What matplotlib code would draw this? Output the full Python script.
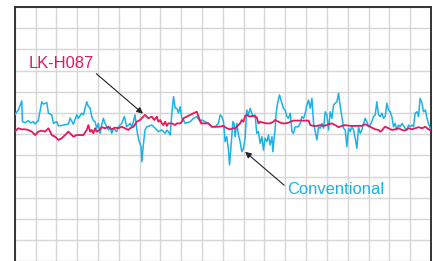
import matplotlib
matplotlib.use("Agg")
import matplotlib.pyplot as plt
import numpy as np

# traces (x: time, y: deviation)
conv_x = [0.0, 1.7, 3.4, 3.7, 5.0, 6.5, 7.7, 8.9, 9.8, 11.3, 13.0, 13.8, 15.4, 16.2, 17.8,
          18.6, 20.2, 21.0, 23.4, 25.8, 26.6, 28.2, 29.8, 30.6, 32.2, 33.0, 34.6, 35.4, 36.2,
          37.0, 37.8, 38.6, 39.4, 40.2, 41.0, 41.8, 42.6, 43.4, 45.0, 45.8, 46.6, 47.4, 49.0,
          49.8, 51.4, 52.7, 53.8, 54.6, 55.4, 56.3, 57.0, 57.8, 58.7, 59.1, 59.8, 60.2, 60.7,
          61.1, 61.8, 62.6, 63.5, 65.9, 67.5, 69.0, 70.7, 72.3, 73.1, 73.8, 74.7, 75.5, 76.3,
          77.1, 77.9, 78.7, 79.5, 80.3, 81.1, 81.9, 84.3, 85.9, 87.5, 89.1, 89.9, 91.5, 93.1,
          94.7, 96.3, 97.9, 98.7, 99.5, 100.3, 101.1, 101.9, 102.7, 103.2, 103.8, 104.8, 105.4,
          105.9, 106.7, 107.5, 108.3, 109.1, 109.9, 110.7, 111.5, 112.3, 113.1, 113.9, 114.7,
          115.5, 116.3, 117.1, 117.9, 118.8, 119.5, 120.3, 121.2, 121.9, 122.7, 123.6, 124.0,
          124.7, 125.1, 125.6, 126.3, 127.2, 128.4, 129.1, 129.9, 130.8, 131.5, 132.4, 133.2,
          133.9, 134.8, 136.3, 137.2, 138.0, 138.8, 139.6, 140.4, 141.2, 142.0, 142.8, 143.6,
          144.4, 145.2, 146.0, 146.8, 147.6, 148.4, 149.2, 150.0, 150.8, 151.6, 152.4, 153.2,
          154.0, 154.8, 155.6, 156.4, 157.2, 158.0, 158.8, 159.6, 160.4, 161.2, 162.0, 162.8,
          163.6, 164.4, 165.2, 166.0, 166.8, 167.6, 168.4, 169.2, 170.0, 170.8, 171.6, 172.4,
          173.2, 174.0, 174.8, 175.6, 176.4, 177.2, 178.0, 178.8, 179.6, 180.4, 181.2, 182.0,
          182.8, 183.6, 184.4, 185.2, 186.1, 187.6, 188.5, 189.2, 190.0, 190.9, 191.6, 192.4,
          193.3, 194.0, 194.8, 195.7, 196.4, 197.3, 198.1, 198.8, 199.6]
conv_y = [9.1, 11.4, 15.7, 5.9, 5.4, 6.4, 5.3, 5.9, 4.8, 6.4, 15.3, 14.2, 14.9, 9.9, 9.1,
          5.1, 5.9, 3.9, 4.3, 4.8, 7.6, 4.7, 9.1, 7.5, 9.9, 9.1, 15.3, 13.0, 12.4,
          8.3, 6.4, 5.9, 2.8, 5.1, 0.4, 4.3, 7.5, 5.1, 2.0, 3.5, 0.4, 2.8, 1.2,
          3.5, 5.1, 8.3, 3.5, 4.3, 5.1, 3.5, 5.9, 9.1, 2.0, -0.4, -3.5, -4.3, -5.9,
          -13.0, -5.1, 2.0, 3.5, 4.3, 2.8, 1.2, 2.0, 0.4, 2.0, 1.2, -0.4, 9.9, 17.7,
          12.2, 12.2, 9.9, 13.0, 7.5, 6.7, 5.1, 5.9, 7.5, 8.3, 5.9, 6.7, 5.9, 5.1,
          3.5, 3.5, 5.1, 9.1, 8.3, 5.9, -3.5, -1.2, -7.5, -14.5, -7.5, 5.9, 5.1,
          -1.2, 5.1, -0.4, -3.5, -8.3, -6.7, -1.9, 11.4, 9.1, 12.2, 9.9, 8.3,
          9.1, 0.4, 1.2, -4.3, -1.2, -7.5, -1.9, -3.5, -0.4, -5.1, -1.2, -8.3,
          -1.2, 2.0, 9.9, 14.6, 18.5, 14.6, 12.2, 11.4, 8.3, 7.5, 9.9, 1.2,
          0.4, 3.5, 3.5, 5.1, 8.3, 7.5, 9.9, 13.8, 16.1, 12.2, 16.9, 5.1,
          1.2, -2.7, 3.5, 2.8, 5.1, 2.8, 10.6, 9.1, 2.0, 10.6, 7.5, 13.8,
          14.6, 15.3, 19.3, 13.0, 8.3, 2.8, 2.0, -5.9, 2.8, 1.2, 3.5, 2.0,
          -1.9, -6.7, 3.5, 0.4, 2.0, 5.1, 7.5, 5.9, 3.5, 4.3, 5.9, 8.3,
          9.1, 15.3, 9.1, 8.3, 9.9, 7.5, 8.3, 14.6, 11.4, 10.6, 8.3, 3.5,
          5.1, 2.0, 4.3, 3.5, 5.1, 2.8, 2.0, 4.3, 3.5, 4.3, 3.5, 9.9,
          10.6, 8.3, 16.9, 14.6, 10.6, 11.4, 7.5, 5.1, 2.8]

lk_x = [0.0, 1.7, 3.4, 5.0, 6.5, 8.2, 9.8, 11.3, 13.0, 14.6, 16.2, 17.8, 19.4, 21.0, 22.6,
        24.2, 25.8, 27.4, 28.2, 29.8, 33.0, 34.6, 35.4, 36.2, 37.0, 37.8, 38.6, 39.4, 40.7,
        41.8, 43.4, 45.0, 46.6, 48.2, 49.8, 51.4, 53.0, 54.6, 55.4, 57.0, 58.7, 60.2, 61.8,
        62.6, 64.2, 65.9, 67.1, 68.3, 69.0, 69.9, 70.7, 71.4, 72.3, 73.1, 73.8, 75.5, 77.1,
        77.9, 79.5, 80.3, 81.1, 82.7, 84.3, 85.9, 87.5, 88.3, 89.6, 90.7, 93.1, 94.7, 97.9,
        100.3, 101.9, 103.5, 105.1, 105.9, 107.5, 108.3, 109.1, 109.9, 110.7, 111.5, 112.3,
        113.1, 113.9, 114.7, 115.5, 116.3, 117.1, 117.9, 119.5, 121.2, 122.7, 124.3, 125.1,
        126.7, 128.4, 129.9, 131.5, 132.4, 133.9, 137.2, 141.2, 142.0, 143.6, 145.2, 146.8,
        148.4, 150.0, 150.8, 152.4, 154.0, 155.6, 157.2, 158.8, 160.4, 162.0, 163.6, 165.2,
        166.8, 168.4, 169.2, 170.0, 171.6, 173.2, 174.8, 175.6, 176.4, 177.2, 178.0, 179.6,
        181.2, 182.8, 184.4, 186.1, 187.6, 188.5, 189.2, 190.9, 192.4, 194.0, 195.7, 197.3,
        198.8, 200.0]
lk_y = [1.2, 2.8, 2.3, 2.3, 2.0, 1.2, -0.4, 1.2, 1.7, 1.2, 2.8, -0.4, -1.2, -2.7, -1.9,
        -0.4, 1.2, -0.4, -1.2, -0.4, -0.4, 2.0, 4.3, 1.2, 2.0, 0.4, 2.8, 1.2, 2.0,
        3.3, 2.8, 3.5, 2.3, 3.1, 2.8, 3.5, 2.8, 2.0, 2.8, 3.5, 5.9, 6.7, 8.3,
        9.1, 7.5, 8.3, 6.7, 8.3, 5.9, 6.7, 5.1, 4.3, 5.9, 3.9, 5.1, 5.1, 4.3,
        5.1, 5.1, 5.9, 7.5, 8.3, 9.1, 9.9, 10.6, 8.3, 5.1, 5.1, 5.1, 3.5, 3.5,
        3.9, 2.8, 2.3, 2.8, 2.8, 4.3, 5.1, 6.7, 5.9, 8.6, 9.1, 8.6,
        8.3, 8.6, 8.6, 8.3, 8.0, 5.1, 5.9, 5.4, 5.1, 5.1, 5.9, 6.7,
        5.9, 5.1, 5.1, 5.4, 5.9, 6.4, 6.4, 6.4, 4.3, 3.9, 3.9, 4.3,
        3.9, 4.3, 4.7, 5.1, 4.3, 3.3, 3.9, 4.3, 4.0, 3.9, 3.9, 4.0,
        3.9, 4.7, 4.3, 3.9, 3.1, 2.3, 2.0, 1.2, 1.7, 2.8, 3.5, 2.8,
        2.0, 2.3, 2.8, 2.0, 1.7, 2.3, 2.8, 2.3, 2.8, 3.3, 2.8, 3.5,
        2.3, 1.7]

blue = "#1cb2e6"
red = "#e31a5a"
font = ["Liberation Sans", "DejaVu Sans"]

fig = plt.figure(figsize=(4.33, 2.61), dpi=100)
ax = fig.add_axes([0.034, -0.0015, 0.9613, 0.9747])

ax.plot(conv_x, conv_y, color=blue, lw=1.1, zorder=3)
ax.plot(lk_x, lk_y, color=red, lw=1.3, zorder=4)

ax.set_xlim(0, 200)
ax.set_ylim(-60, 60)
ax.set_xticks(np.arange(0, 201, 10))
ax.set_yticks(np.arange(-60, 61, 10))
ax.tick_params(length=0, labelbottom=False, labelleft=False)
ax.grid(True, color="#d6d6d6", lw=1.0)
ax.set_axisbelow(True)
for side in ["left", "top", "right"]:
    ax.spines[side].set_color("#333333")
    ax.spines[side].set_linewidth(1.4)
ax.spines["bottom"].set_visible(False)

arrow = dict(arrowstyle="-|>", color="#222222", lw=0.8, mutation_scale=9, shrinkA=0, shrinkB=0)
ax.annotate("LK-H087", xy=(61.6, 9.7), xytext=(22.2, 33.2), color=red, fontsize=11.9,
            family=font, ha="center", va="center", zorder=5,
            arrowprops=dict(arrow, relpos=(1.0, 0.0)))
ax.annotate("Conventional", xy=(110.7, -8.3), xytext=(130.8, -25.9), color=blue, fontsize=11.9,
            family=font, ha="left", va="center", zorder=5,
            arrowprops=dict(arrow, relpos=(0.0, 0.6)))

fig.savefig("out.png", dpi=100)
